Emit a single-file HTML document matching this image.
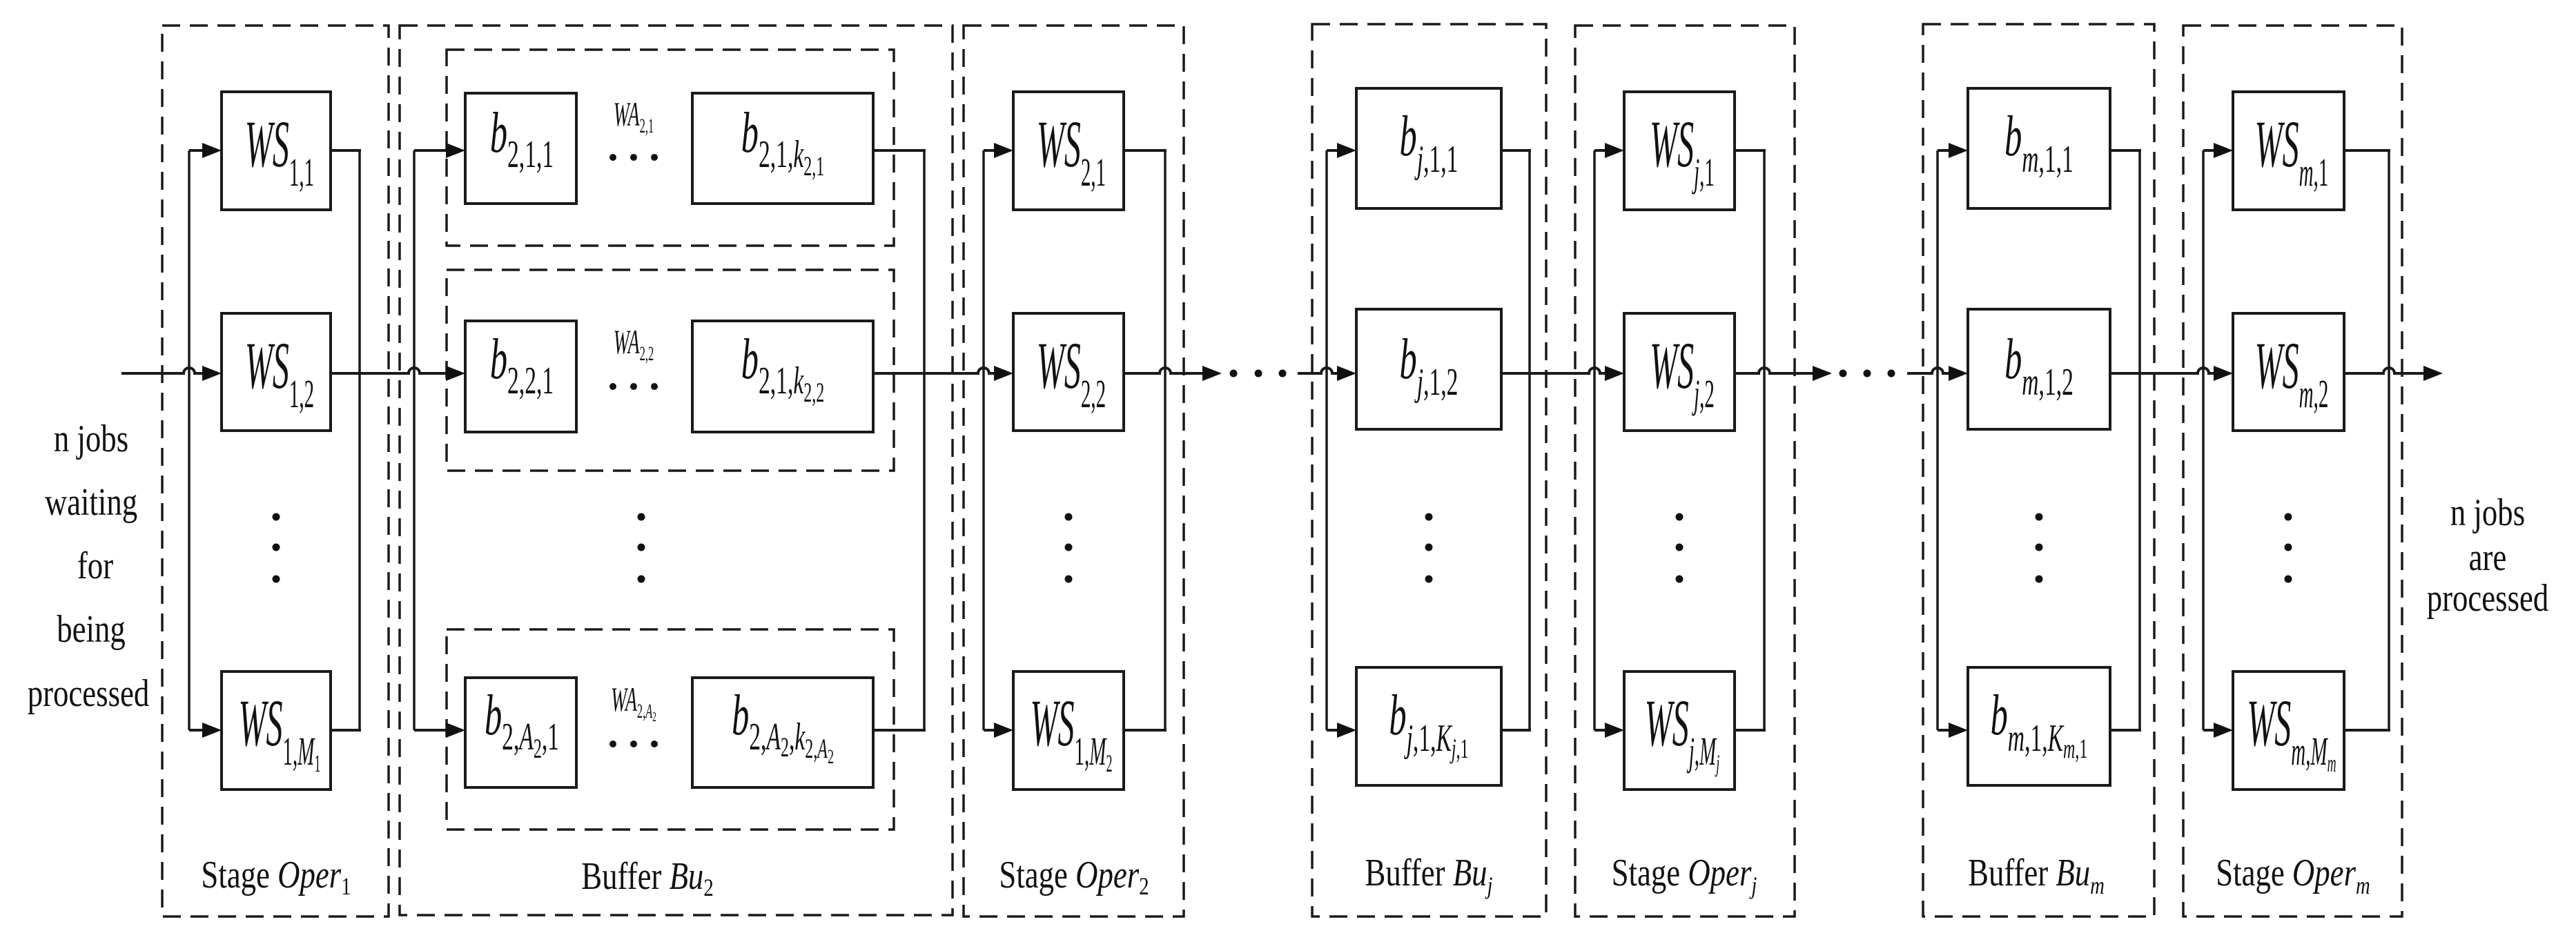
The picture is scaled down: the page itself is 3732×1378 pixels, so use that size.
<!DOCTYPE html>
<html><head><meta charset="utf-8">
<style>
html,body{margin:0;padding:0;background:#fff;}
svg{display:block;}
text{font-family:"Liberation Serif","DejaVu Serif",serif;fill:#111;}
.m{font-style:italic;}
.n{font-style:normal;}
</style></head>
<body>
<svg id="s" width="3732" height="1378" viewBox="0 0 3732 1378" xmlns="http://www.w3.org/2000/svg">
<g id="shapes" fill="none" stroke="#1a1a1a" stroke-width="4"></g>
<g id="dots" fill="#111"></g>

<g font-size="56" text-anchor="middle">
<text transform="translate(132,654) scale(0.8,1)">n jobs</text>
<text transform="translate(132,746) scale(0.8,1)">waiting</text>
<text transform="translate(138,838) scale(0.8,1)">for</text>
<text transform="translate(132,930) scale(0.8,1)">being</text>
<text transform="translate(128,1023) scale(0.8,1)">processed</text>
<text transform="translate(3604,761) scale(0.8,1)">n jobs</text>
<text transform="translate(3604,826) scale(0.8,1)">are</text>
<text transform="translate(3604,885) scale(0.8,1)">processed</text>
</g>

<g font-size="56" text-anchor="middle">
<text transform="translate(400,1286) scale(0.8,1)">Stage <tspan class="m">Oper</tspan><tspan font-size="36" dy="10">1</tspan></text>
<text transform="translate(938,1288) scale(0.8,1)">Buffer <tspan class="m">Bu</tspan><tspan font-size="36" dy="10">2</tspan></text>
<text transform="translate(1556,1286) scale(0.8,1)">Stage <tspan class="m">Oper</tspan><tspan font-size="36" dy="10">2</tspan></text>
<text transform="translate(2070,1283) scale(0.8,1)">Buffer <tspan class="m">Bu</tspan><tspan class="m" font-size="36" dy="12">j</tspan></text>
<text transform="translate(2440,1283) scale(0.8,1)">Stage <tspan class="m">Oper</tspan><tspan class="m" font-size="36" dy="12">j</tspan></text>
<text transform="translate(2950,1283) scale(0.8,1)">Buffer <tspan class="m">Bu</tspan><tspan class="m" font-size="36" dy="12">m</tspan></text>
<text transform="translate(3322,1283) scale(0.8,1)">Stage <tspan class="m">Oper</tspan><tspan class="m" font-size="36" dy="12">m</tspan></text>
</g>

<g class="m" font-size="96" text-anchor="middle">
<text transform="translate(405,241) scale(0.5,1)">WS<tspan class="n" font-size="58" dy="28">1,1</tspan></text>
<text transform="translate(405,562) scale(0.5,1)">WS<tspan class="n" font-size="58" dy="28">1,2</tspan></text>
<text transform="translate(405,1080) scale(0.5,1)">WS<tspan class="n" font-size="58" dy="28">1,</tspan><tspan font-size="58">M</tspan><tspan class="n" font-size="36" dy="10">1</tspan></text>
<text transform="translate(1552,241) scale(0.5,1)">WS<tspan class="n" font-size="58" dy="28">2,1</tspan></text>
<text transform="translate(1552,562) scale(0.5,1)">WS<tspan class="n" font-size="58" dy="28">2,2</tspan></text>
<text transform="translate(1552,1080) scale(0.5,1)">WS<tspan class="n" font-size="58" dy="28">1,</tspan><tspan font-size="58">M</tspan><tspan class="n" font-size="36" dy="10">2</tspan></text>
<text transform="translate(2437,241) scale(0.5,1)">WS<tspan font-size="58" dy="28">j</tspan><tspan class="n" font-size="58">,1</tspan></text>
<text transform="translate(2437,562) scale(0.5,1)">WS<tspan font-size="58" dy="28">j</tspan><tspan class="n" font-size="58">,2</tspan></text>
<text transform="translate(2437,1080) scale(0.5,1)">WS<tspan font-size="58" dy="28">j</tspan><tspan class="n" font-size="58">,</tspan><tspan font-size="58">M</tspan><tspan font-size="36" dy="10">j</tspan></text>
<text transform="translate(3320,241) scale(0.5,1)">WS<tspan font-size="58" dy="28">m</tspan><tspan class="n" font-size="58">,1</tspan></text>
<text transform="translate(3320,562) scale(0.5,1)">WS<tspan font-size="58" dy="28">m</tspan><tspan class="n" font-size="58">,2</tspan></text>
<text transform="translate(3320,1080) scale(0.5,1)">WS<tspan font-size="58" dy="28">m</tspan><tspan class="n" font-size="58">,</tspan><tspan font-size="58">M</tspan><tspan font-size="36" dy="10">m</tspan></text>
</g>

<g class="m" font-size="84" text-anchor="middle">
<text transform="translate(756,220) scale(0.6,1)">b<tspan font-size="56" dy="22" font-style="normal">2,1,1</tspan></text>
<text transform="translate(1134,220) scale(0.6,1)">b<tspan font-size="56" dy="22" font-style="normal">2,1,</tspan><tspan font-size="56">k</tspan><tspan font-size="40" dy="12" font-style="normal">2,1</tspan></text>
<text transform="translate(756,548) scale(0.6,1)">b<tspan font-size="56" dy="22" font-style="normal">2,2,1</tspan></text>
<text transform="translate(1134,548) scale(0.6,1)">b<tspan font-size="56" dy="22" font-style="normal">2,1,</tspan><tspan font-size="56">k</tspan><tspan font-size="40" dy="12" font-style="normal">2,2</tspan></text>
<text transform="translate(756,1064) scale(0.6,1)">b<tspan font-size="56" dy="22" font-style="normal">2,</tspan><tspan font-size="56">A</tspan><tspan font-size="40" dy="12" font-style="normal">2</tspan><tspan font-size="56" dy="-12" font-style="normal">,1</tspan></text>
<text transform="translate(1134,1064) scale(0.6,1)">b<tspan font-size="56" dy="22" font-style="normal">2,</tspan><tspan font-size="56">A</tspan><tspan font-size="40" dy="10" font-style="normal">2</tspan><tspan font-size="56" dy="-10" font-style="normal">,</tspan><tspan font-size="56">k</tspan><tspan font-size="40" dy="12" font-style="normal">2,</tspan><tspan font-size="40">A</tspan><tspan font-size="30" dy="8" font-style="normal">2</tspan></text>

<text transform="translate(2070,225) scale(0.6,1)">b<tspan font-size="56" dy="24">j</tspan><tspan font-size="56" font-style="normal">,1,1</tspan></text>
<text transform="translate(2070,548) scale(0.6,1)">b<tspan font-size="56" dy="24">j</tspan><tspan font-size="56" font-style="normal">,1,2</tspan></text>
<text transform="translate(2070,1064) scale(0.6,1)">b<tspan font-size="56" dy="24">j</tspan><tspan font-size="56" font-style="normal">,1,</tspan><tspan font-size="56">K</tspan><tspan font-size="40" dy="10">j</tspan><tspan font-size="40" font-style="normal">,1</tspan></text>
<text transform="translate(2954,225) scale(0.6,1)">b<tspan font-size="56" dy="24">m</tspan><tspan font-size="56" font-style="normal">,1,1</tspan></text>
<text transform="translate(2954,548) scale(0.6,1)">b<tspan font-size="56" dy="24">m</tspan><tspan font-size="56" font-style="normal">,1,2</tspan></text>
<text transform="translate(2954,1064) scale(0.6,1)">b<tspan font-size="56" dy="24">m</tspan><tspan font-size="56" font-style="normal">,1,</tspan><tspan font-size="56">K</tspan><tspan font-size="40" dy="10">m</tspan><tspan font-size="40" font-style="normal">,1</tspan></text>
</g>

<g class="m" font-size="50" text-anchor="middle">
<text transform="translate(918,182) scale(0.55,1)">WA<tspan font-size="30" dy="10" font-style="normal">2,1</tspan></text>
<text transform="translate(918,512) scale(0.55,1)">WA<tspan font-size="30" dy="10" font-style="normal">2,2</tspan></text>
<text transform="translate(918,1030) scale(0.55,1)">WA<tspan font-size="30" dy="10" font-style="normal">2,</tspan><tspan font-size="30">A</tspan><tspan font-size="20" dy="5" font-style="normal">2</tspan></text>
</g>
</svg>
<script>
(function(){
var NS="http://www.w3.org/2000/svg";
var G=document.getElementById("shapes"), D=document.getElementById("dots");
function el(p,tag,a){var e=document.createElementNS(NS,tag);for(var k in a)e.setAttribute(k,a[k]);p.appendChild(e);return e;}
function line(x1,y1,x2,y2,w){el(G,"line",{x1:x1,y1:y1,x2:x2,y2:y2,"stroke-width":w||4});}
function rect(x1,y1,x2,y2){el(G,"rect",{x:x1,y:y1,width:x2-x1,height:y2-y1,"stroke-width":4});}
function drect(x1,y1,x2,y2){el(G,"rect",{x:x1,y:y1,width:x2-x1,height:y2-y1,"stroke-width":3.5,"stroke-dasharray":"26 14"});}
function arrow(x,y){el(D,"polygon",{points:(x-28)+","+(y-11)+" "+x+","+y+" "+(x-28)+","+(y+11)});}
function dot(x,y,r){el(D,"circle",{cx:x,cy:y,r:r||5.5});}
function hline(xa,xb,y,xh){
 if(xh==null){line(xa,y,xb,y);return;}
 var r=8;
 el(G,"path",{d:"M"+xa+" "+y+" L"+(xh-r)+" "+y+" A"+r+" "+r+" 0 0 1 "+(xh+r)+" "+y+" L"+xb+" "+y});
}
drect(235,37,563,1328);
drect(579,37,1380,1326);
drect(647,72,1295,356);drect(647,391,1295,682);drect(647,912,1295,1202);
drect(1396,37,1715,1328);
drect(1901,35,2240,1328);
drect(2282,37,2600,1328);
drect(2786,35,3121,1328);
drect(3163,37,3480,1328);

var rowsWS=[[133,304],[454,624],[973,1144]];
var rowsB=[[135,295],[465,626],[982,1141]];
var ay=[218,541,1058];
var groups=[
 {L:274,R:521,bl:321,br:479,rows:rowsWS},
 {L:600,R:1339,bl:674,br:1265,rows:rowsB,buf:true},
 {L:1425,R:1688,bl:1468,br:1628,rows:rowsWS},
 {L:1922,R:2216,bl:1965,br:2175,rows:[[128,302],[448,622],[967,1138]]},
 {L:2310,R:2556,bl:2353,br:2513,rows:rowsWS},
 {L:2807,R:3100,bl:2851,br:3057,rows:[[128,302],[448,622],[967,1138]]},
 {L:3192,R:3461,bl:3235,br:3396,rows:rowsWS}
];
groups.forEach(function(g){
 if(g.buf){
  for(var i=0;i<3;i++){rect(674,g.rows[i][0],835,g.rows[i][1]);rect(1003,g.rows[i][0],1265,g.rows[i][1]);}
 } else {
  for(var i=0;i<3;i++)rect(g.bl,g.rows[i][0],g.br,g.rows[i][1]);
 }
 line(g.L,ay[0],g.L,ay[2],3.5);
 line(g.R,ay[0]-2,g.R,ay[2]+2,3.5);
 line(g.L,ay[0],g.bl-26,ay[0]);arrow(g.bl,ay[0]);
 line(g.L,ay[2],g.bl-26,ay[2]);arrow(g.bl,ay[2]);
 line(g.br,ay[0],g.R+2,ay[0]);
 line(g.br,ay[2],g.R+2,ay[2]);
});
var y=ay[1];
hline(176,321-26,y,274);arrow(321,y);
hline(479,674-26,y,600);arrow(674,y);
hline(1265,1468-26,y,1425);arrow(1468,y);
hline(1628,1744,y,1688);arrow(1770,y);
dot(1787,y);dot(1823,y);dot(1858,y);
hline(1880,1965-26,y,1922);arrow(1965,y);
hline(2175,2353-26,y,2310);arrow(2353,y);
hline(2513,2628,y,2556);arrow(2654,y);
dot(2670,y);dot(2705,y);dot(2740,y);
hline(2763,2851-26,y,2807);arrow(2851,y);
hline(3057,3235-26,y,3192);arrow(3235,y);
hline(3396,3512,y,3461);arrow(3539,y);
[400,929,1548,2070,2433,2954,3315].forEach(function(x){dot(x,749);dot(x,793);dot(x,839);});
[228,560,1078].forEach(function(v){dot(888,v,5);dot(918,v,5);dot(948,v,5);});
})();
</script>
</body></html>
